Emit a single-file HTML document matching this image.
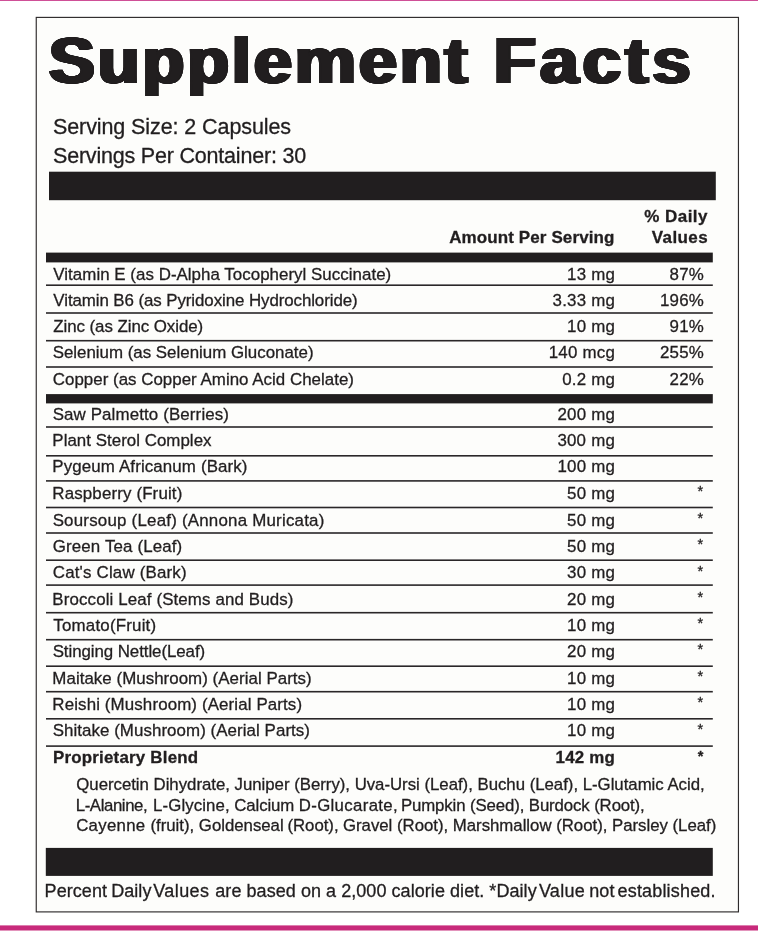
<!DOCTYPE html>
<html lang="en"><head><meta charset="utf-8"><title>Supplement Facts</title>
<style>
html,body{margin:0;padding:0;background:#fff;}
body{width:758px;height:932px;position:relative;overflow:hidden;font-family:"Liberation Sans",Arial,Helvetica,sans-serif;color:#211e1f;}
.t{position:absolute;white-space:nowrap;margin:0;line-height:30px;-webkit-text-stroke:0.3px #211e1f;}
.bg{position:absolute;left:0;top:0;}
.title{top:26.2px;-webkit-text-stroke:0;font-size:65px;line-height:70px;font-weight:bold;text-shadow:-1.8px -0.35px 0 #211e1f,-1.8px 0px 0 #211e1f,-1.8px 0.35px 0 #211e1f,-0.9px -0.35px 0 #211e1f,-0.9px 0px 0 #211e1f,-0.9px 0.35px 0 #211e1f,0px -0.35px 0 #211e1f,0px 0.35px 0 #211e1f,0.9px -0.35px 0 #211e1f,0.9px 0px 0 #211e1f,0.9px 0.35px 0 #211e1f,1.8px -0.35px 0 #211e1f,1.8px 0px 0 #211e1f,1.8px 0.35px 0 #211e1f;transform-origin:0 0;transform:scale(1.056,1.0);}
.w1{left:48.9px;letter-spacing:2.7px;}
.w2{left:494.2px;letter-spacing:4.1px;}
#page{position:absolute;left:0;top:0;width:758px;height:932px;will-change:transform;}
</style></head><body>
<div id="page">
<svg class="bg" width="758" height="932" viewBox="0 0 758 932">
<rect x="0.00" y="0.00" width="758.00" height="1.00" fill="#cf4f97"/>
<rect x="0.00" y="925.40" width="758.00" height="5.10" fill="#c82a7b"/>
<rect x="36.25" y="17.4" width="702.2" height="894.5" fill="#fdfdfb" stroke="#2e2b2c" stroke-width="1.15"/>
<rect x="49.00" y="171.70" width="666.80" height="28.50" fill="#211e1f"/>
<rect x="46.00" y="252.60" width="666.80" height="9.80" fill="#211e1f"/>
<rect x="46.00" y="394.10" width="666.80" height="9.30" fill="#211e1f"/>
<rect x="45.80" y="847.90" width="667.00" height="28.00" fill="#211e1f"/>
<rect x="46.00" y="284.40" width="666.80" height="1.60" fill="#2a2728"/>
<rect x="46.00" y="312.20" width="666.80" height="1.60" fill="#2a2728"/>
<rect x="46.00" y="339.90" width="666.80" height="1.60" fill="#2a2728"/>
<rect x="46.00" y="366.20" width="666.80" height="1.60" fill="#2a2728"/>
<rect x="46.00" y="426.20" width="666.80" height="1.60" fill="#2a2728"/>
<rect x="46.00" y="455.00" width="666.80" height="1.60" fill="#2a2728"/>
<rect x="46.00" y="480.10" width="666.80" height="1.60" fill="#2a2728"/>
<rect x="46.00" y="506.70" width="666.80" height="1.60" fill="#2a2728"/>
<rect x="46.00" y="532.20" width="666.80" height="1.60" fill="#2a2728"/>
<rect x="46.00" y="559.40" width="666.80" height="1.60" fill="#2a2728"/>
<rect x="46.00" y="584.30" width="666.80" height="1.60" fill="#2a2728"/>
<rect x="46.00" y="611.90" width="666.80" height="1.60" fill="#2a2728"/>
<rect x="46.00" y="638.90" width="666.80" height="1.60" fill="#2a2728"/>
<rect x="46.00" y="665.40" width="666.80" height="1.60" fill="#2a2728"/>
<rect x="46.00" y="690.90" width="666.80" height="1.60" fill="#2a2728"/>
<rect x="46.00" y="718.00" width="666.80" height="1.60" fill="#2a2728"/>
<rect x="46.00" y="745.30" width="666.80" height="1.60" fill="#2a2728"/>
</svg>
<div class="t title w1">Supplement</div>
<div class="t title w2">Facts</div>
<div class="t" style="left:52.99px;top:112px;font-size:21.5px;letter-spacing:-0.092px;">Serving Size: 2 Capsules</div>
<div class="t" style="left:52.99px;top:141px;font-size:21.5px;letter-spacing:-0.198px;">Servings Per Container: 30</div>
<div class="t" style="left:644.22px;top:202px;font-size:17px;letter-spacing:0.459px;font-weight:bold;">% Daily</div>
<div class="t" style="left:651.76px;top:223px;font-size:17px;letter-spacing:0.406px;font-weight:bold;">Values</div>
<div class="t" style="left:449.13px;top:223px;font-size:17px;letter-spacing:0.112px;font-weight:bold;">Amount Per Serving</div>
<div class="t" style="left:53.35px;top:260px;font-size:16.9px;letter-spacing:0.034px;">Vitamin E (as D-Alpha Tocopheryl Succinate)</div>
<div class="t" style="left:567.06px;top:260px;font-size:16.9px;letter-spacing:0.220px;">13 mg</div>
<div class="t" style="left:669.60px;top:260px;font-size:16.9px;letter-spacing:0.220px;">87%</div>
<div class="t" style="left:53.35px;top:286px;font-size:16.9px;letter-spacing:-0.085px;">Vitamin B6 (as Pyridoxine Hydrochloride)</div>
<div class="t" style="left:552.60px;top:286px;font-size:16.9px;letter-spacing:0.220px;">3.33 mg</div>
<div class="t" style="left:660.00px;top:286px;font-size:16.9px;letter-spacing:0.220px;">196%</div>
<div class="t" style="left:53.22px;top:312px;font-size:16.9px;letter-spacing:-0.057px;">Zinc (as Zinc Oxide)</div>
<div class="t" style="left:567.04px;top:312px;font-size:16.9px;letter-spacing:0.220px;">10 mg</div>
<div class="t" style="left:669.60px;top:312px;font-size:16.9px;letter-spacing:0.220px;">91%</div>
<div class="t" style="left:52.65px;top:338px;font-size:16.9px;letter-spacing:-0.004px;">Selenium (as Selenium Gluconate)</div>
<div class="t" style="left:548.71px;top:338px;font-size:16.9px;letter-spacing:0.220px;">140 mcg</div>
<div class="t" style="left:660.00px;top:338px;font-size:16.9px;letter-spacing:0.220px;">255%</div>
<div class="t" style="left:52.78px;top:365px;font-size:16.9px;letter-spacing:0.020px;">Copper (as Copper Amino Acid Chelate)</div>
<div class="t" style="left:562.14px;top:365px;font-size:16.9px;letter-spacing:0.220px;">0.2 mg</div>
<div class="t" style="left:669.61px;top:365px;font-size:16.9px;letter-spacing:0.220px;">22%</div>
<div class="t" style="left:52.65px;top:400px;font-size:16.9px;letter-spacing:0.128px;">Saw Palmetto (Berries)</div>
<div class="t" style="left:557.50px;top:400px;font-size:16.9px;letter-spacing:0.220px;">200 mg</div>
<div class="t" style="left:52.37px;top:426px;font-size:16.9px;letter-spacing:0.026px;">Plant Sterol Complex</div>
<div class="t" style="left:557.38px;top:426px;font-size:16.9px;letter-spacing:0.220px;">300 mg</div>
<div class="t" style="left:52.37px;top:452px;font-size:16.9px;letter-spacing:0.122px;">Pygeum Africanum (Bark)</div>
<div class="t" style="left:557.41px;top:452px;font-size:16.9px;letter-spacing:0.220px;">100 mg</div>
<div class="t" style="left:52.37px;top:479px;font-size:16.9px;letter-spacing:0.142px;">Raspberry (Fruit)</div>
<div class="t" style="left:567.10px;top:479px;font-size:16.9px;letter-spacing:0.220px;">50 mg</div>
<div class="t" style="left:697.55px;top:476px;font-size:14.5px;">*</div>
<div class="t" style="left:52.65px;top:506px;font-size:16.9px;letter-spacing:0.216px;">Soursoup (Leaf) (Annona Muricata)</div>
<div class="t" style="left:567.10px;top:506px;font-size:16.9px;letter-spacing:0.220px;">50 mg</div>
<div class="t" style="left:697.55px;top:503px;font-size:14.5px;">*</div>
<div class="t" style="left:52.78px;top:532px;font-size:16.9px;letter-spacing:0.138px;">Green Tea (Leaf)</div>
<div class="t" style="left:567.10px;top:532px;font-size:16.9px;letter-spacing:0.220px;">50 mg</div>
<div class="t" style="left:697.55px;top:529px;font-size:14.5px;">*</div>
<div class="t" style="left:52.78px;top:558px;font-size:16.9px;letter-spacing:0.181px;">Cat's Claw (Bark)</div>
<div class="t" style="left:567.10px;top:558px;font-size:16.9px;letter-spacing:0.220px;">30 mg</div>
<div class="t" style="left:697.55px;top:556px;font-size:14.5px;">*</div>
<div class="t" style="left:52.37px;top:585px;font-size:16.9px;letter-spacing:0.122px;">Broccoli Leaf (Stems and Buds)</div>
<div class="t" style="left:567.10px;top:585px;font-size:16.9px;letter-spacing:0.220px;">20 mg</div>
<div class="t" style="left:697.55px;top:582px;font-size:14.5px;">*</div>
<div class="t" style="left:53.31px;top:611px;font-size:16.9px;letter-spacing:0.200px;">Tomato(Fruit)</div>
<div class="t" style="left:567.04px;top:611px;font-size:16.9px;letter-spacing:0.220px;">10 mg</div>
<div class="t" style="left:697.55px;top:608px;font-size:14.5px;">*</div>
<div class="t" style="left:52.65px;top:637px;font-size:16.9px;letter-spacing:-0.074px;">Stinging Nettle(Leaf)</div>
<div class="t" style="left:567.10px;top:637px;font-size:16.9px;letter-spacing:0.220px;">20 mg</div>
<div class="t" style="left:697.55px;top:634px;font-size:14.5px;">*</div>
<div class="t" style="left:52.37px;top:664px;font-size:16.9px;letter-spacing:0.036px;">Maitake (Mushroom) (Aerial Parts)</div>
<div class="t" style="left:567.04px;top:664px;font-size:16.9px;letter-spacing:0.220px;">10 mg</div>
<div class="t" style="left:697.55px;top:661px;font-size:14.5px;">*</div>
<div class="t" style="left:52.37px;top:690px;font-size:16.9px;letter-spacing:0.122px;">Reishi (Mushroom) (Aerial Parts)</div>
<div class="t" style="left:567.04px;top:690px;font-size:16.9px;letter-spacing:0.220px;">10 mg</div>
<div class="t" style="left:697.55px;top:687px;font-size:14.5px;">*</div>
<div class="t" style="left:52.65px;top:716px;font-size:16.9px;letter-spacing:0.063px;">Shitake (Mushroom) (Aerial Parts)</div>
<div class="t" style="left:567.04px;top:716px;font-size:16.9px;letter-spacing:0.220px;">10 mg</div>
<div class="t" style="left:697.55px;top:714px;font-size:14.5px;">*</div>
<div class="t" style="left:52.97px;top:743px;font-size:16.9px;letter-spacing:0.213px;font-weight:bold;">Proprietary Blend</div>
<div class="t" style="left:555.60px;top:743px;font-size:16.9px;letter-spacing:0.220px;font-weight:bold;">142 mg</div>
<div class="t" style="left:697.81px;top:741px;font-size:14.5px;font-weight:bold;">*</div>
<div class="t" style="left:76.27px;top:770px;font-size:16.8px;letter-spacing:-0.013px;">Quercetin Dihydrate, Juniper (Berry), Uva-Ursi (Leaf), Buchu (Leaf), L-Glutamic Acid,</div>
<div class="t" style="left:75.73px;top:791px;font-size:16.8px;letter-spacing:-0.111px;"><span style="letter-spacing:-0.4px">L-Alanine,</span> <span style="margin-left:1.2px"></span><span style="letter-spacing:0.12px">L-Glycine,</span> Calcium <span style="letter-spacing:0.35px">D-Glucarate,</span> <span style="margin-left:-1.7px"></span>Pumpkin (Seed), Burdock (Root),</div>
<div class="t" style="left:76.15px;top:811px;font-size:16.8px;letter-spacing:-0.012px;"><span style="letter-spacing:0.3px">Cayenne</span> <span style="margin-left:0.4px"></span>(fruit), Goldenseal <span style="margin-left:-0.9px"></span>(Root), <span style="margin-left:-0.3px"></span>Gravel (Root), Marshmallow (Root), Parsley (Leaf)</div>
<div class="t" style="left:44.60px;top:876px;font-size:18px;letter-spacing:0.054px;">Percent <span style="margin-left:-0.9px"></span>Daily <span style="margin-left:-3.4px"></span><span style="letter-spacing:0.45px">Values</span> <span style="margin-left:0.7px"></span>are based on a 2,000 calorie diet. <span style="margin-left:0.0px"></span>*Daily <span style="margin-left:-2.9px"></span><span style="letter-spacing:0.3px">Value</span> <span style="margin-left:-0.9px"></span>not <span style="margin-left:-1.95px"></span><span style="letter-spacing:0.17px">established.</span></div>
</div>
</body></html>
